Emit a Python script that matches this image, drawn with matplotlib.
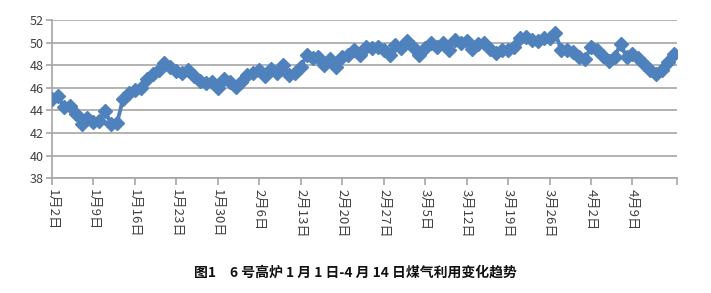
import matplotlib.pyplot as plt
import numpy as np

plt.rcParams["font.family"] = ["Noto Sans CJK SC", "DejaVu Sans"]

# daily coal-gas utilisation (%), 1月2日 onwards
gas_util = [
    45.0, 45.3, 44.3, 44.4, 43.7, 42.8, 43.3, 43.0, 43.1, 43.9,
    42.8, 42.9, 45.0, 45.5, 45.8, 46.0, 46.8, 47.2, 47.6, 48.2,
    47.8, 47.5, 47.3, 47.6, 47.0, 46.6, 46.4, 46.5, 46.0, 46.8,
    46.5, 46.1, 46.5, 47.1, 47.3, 47.6, 47.0, 47.7, 47.3, 48.0,
    47.1, 47.3, 47.8, 48.9, 48.6, 48.7, 48.0, 48.5, 47.8, 48.7,
    48.9, 49.3, 48.9, 49.6, 49.5, 49.6, 49.3, 48.9, 49.8, 49.5,
    50.1, 49.6, 48.9, 49.5, 50.0, 49.6, 50.0, 49.3, 50.2, 50.0,
    50.1, 49.4, 49.9, 50.0, 49.4, 49.1, 49.3, 49.3, 49.6, 50.4,
    50.5, 50.2, 50.1, 50.4, 50.4, 50.8, 49.3, 49.3, 49.2, 48.7,
    48.5, 49.6, 49.3, 48.8, 48.4, 48.7, 49.9, 48.7, 49.0, 48.6,
    48.1, 47.6, 47.2, 47.6, 48.3, 49.0,
]
tick_labels = [
    "1月2日", "1月9日", "1月16日", "1月23日", "1月30日", "2月6日",
    "2月13日", "2月20日", "2月27日", "3月5日", "3月12日", "3月19日",
    "3月26日", "4月2日", "4月9日",
]
y_ticks = [38, 40, 42, 44, 46, 48, 50, 52]

title = "图1　6 号高炉 1 月 1 日-4 月 14 日煤气利用变化趋势"

blue = "#4F81BD"
grey = "#A6A6A6"

fig = plt.figure(figsize=(7.11, 2.93), dpi=100)
ax = fig.add_axes([0.073, 0.392, 0.879, 0.54])

days = np.arange(len(gas_util))
ax.plot(days, gas_util, color=blue, lw=2.8, marker="D", ms=7,
        mec=blue, mfc=blue, zorder=3)

ax.set_xlim(0, len(gas_util) - 0.5)
ax.set_ylim(y_ticks[0], y_ticks[-1])
ax.set_yticks(y_ticks)
ax.yaxis.grid(True, color=grey, lw=1.2)
ax.set_axisbelow(True)

xt = list(range(0, 7 * len(tick_labels), 7)) + [len(gas_util) - 0.5]
ax.set_xticks(xt)
ax.set_xticklabels(tick_labels + [""], rotation=-90, fontsize=9.5,
                   color="#404040", va="top", ha="center")
ax.tick_params(axis="y", labelsize=9, colors="#404040", length=4,
               width=1.2, color=grey, pad=2)
ax.tick_params(axis="x", length=5, width=1.2, color=grey, pad=3)

for s in ["top", "right"]:
    ax.spines[s].set_visible(False)
for s in ["left", "bottom"]:
    ax.spines[s].set_color(grey)
    ax.spines[s].set_linewidth(1.2)

fig.text(0.5, 0.07, title, ha="center", va="center", fontsize=10,
         fontweight="bold", color="#111111")

fig.savefig("out.png", dpi=100)
